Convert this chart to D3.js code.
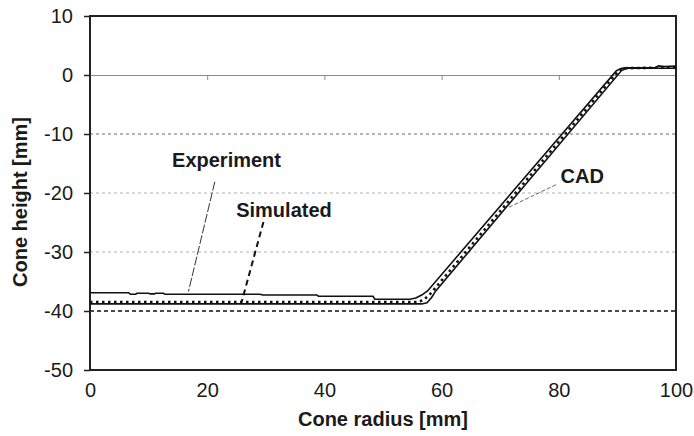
<!DOCTYPE html>
<html>
<head>
<meta charset="utf-8">
<script src="https://cdn.jsdelivr.net/npm/d3@7"></script>
<style>
  html, body { margin: 0; padding: 0; background: #fff; }
  svg { display: block; }
  text { font-family: "Liberation Sans", Arial, sans-serif; fill: #1a1a1a; }
</style>
</head>
<body>
<svg id="chart" width="694" height="436"></svg>
<script>
// ---- data ----
const xTicks = [0, 20, 40, 60, 80, 100];
const yTicks = [10, 0, -10, -20, -30, -40, -50];

const experimentX = [0, 6.6, 6.9, 7.8, 8.0, 10.0, 10.3, 11.0, 11.2, 12.5, 12.8, 29.0, 29.5, 38.7, 39.0, 48.3, 48.6, 54.6, 55.6, 56.6, 57.6, 89.8, 90.5, 91.2, 93.0, 96.5, 97.0, 98.0, 100];
const experimentY = [-36.9, -36.9, -37.15, -37.15, -37.0, -37.0, -37.1, -37.1, -37.0, -37.0, -37.15, -37.15, -37.3, -37.3, -37.5, -37.5, -38.0, -38.0, -37.8, -37.3, -36.6, 0.7, 1.05, 1.2, 1.2, 1.25, 1.55, 1.45, 1.5];

const simulatedX = [0, 55.8, 56.8, 57.8, 58.5, 90.2, 91.2, 100];
const simulatedY = [-38.5, -38.5, -38.2, -37.4, -36.6, 0.7, 1.15, 1.3];

const cadX = [0, 56.6, 57.5, 58.3, 59.0, 90.7, 91.6, 100];
const cadY = [-38.8, -38.8, -38.6, -37.7, -36.6, 0.75, 1.15, 1.15];

const gridValues = [-10, -20, -30, -40];

const labelTexts = ["Experiment", "Simulated", "CAD"];
const labelX = [23.3, 33.1, 84.0];
const labelY = [-15.6, -24.15, -18.3];

const leaderX1 = [21.3, 29.6, 79.5];
const leaderY1 = [-18.1, -24.9, -18.6];
const leaderX2 = [16.8, 25.9, 71.3];
const leaderY2 = [-36.7, -38.4, -22.5];

// ---- layout ----
const svg = d3.select("#chart");
const pL = 90, pR = 676, pT = 16, pB = 370;
const x = d3.scaleLinear().domain([0, 100]).range([pL, pR]);
const y = d3.scaleLinear().domain([-50, 10]).range([pB, pT]);
const FONT = '"Liberation Sans", Arial, sans-serif';
const fmt = d => String(d);

// grid lines
const gridStyle = {
  "-10": { stroke: "#6a6a6a", dash: "3,3", w: 1 },
  "-20": { stroke: "#b0b0b0", dash: "3,3", w: 1 },
  "-30": { stroke: "#b0b0b0", dash: "3,3", w: 1 },
  "-40": { stroke: "#111", dash: "4,3", w: 1.6 }
};
svg.append("g").selectAll("line").data(gridValues).join("line")
  .attr("x1", x(0)).attr("x2", x(100))
  .attr("y1", d => y(d)).attr("y2", d => y(d))
  .attr("stroke", d => gridStyle[d].stroke)
  .attr("stroke-width", d => gridStyle[d].w)
  .attr("stroke-dasharray", d => gridStyle[d].dash);

// zero axis line with small ticks
const zeroAxis = svg.append("g").attr("transform", `translate(0,${y(0)})`)
  .call(d3.axisBottom(x).tickValues(xTicks).tickSize(5).tickFormat(""));
zeroAxis.select(".domain").attr("stroke", "#8a8a8a").attr("stroke-width", 1);
zeroAxis.selectAll(".tick line").attr("stroke", "#8a8a8a");

// x axis labels (bottom)
const xAxis = svg.append("g").attr("transform", `translate(0,${pB})`)
  .call(d3.axisBottom(x).tickValues(xTicks).tickFormat(fmt).tickSize(0).tickPadding(13));
xAxis.select(".domain").remove();
xAxis.selectAll("text").attr("font-size", 20).style("font-family", FONT).attr("fill", "#1a1a1a");

// y axis
const yAxis = svg.append("g").attr("transform", `translate(${pL},0)`)
  .call(d3.axisLeft(y).tickValues(yTicks).tickFormat(fmt).tickSize(6).tickPadding(11));
yAxis.select(".domain").remove();
yAxis.selectAll(".tick line").attr("stroke", "#222").attr("stroke-width", 1.5);
yAxis.selectAll("text").attr("font-size", 20).style("font-family", FONT).attr("fill", "#1a1a1a");

// frame
svg.append("rect")
  .attr("x", pL).attr("y", pT)
  .attr("width", pR - pL).attr("height", pB - pT)
  .attr("fill", "none").attr("stroke", "#222").attr("stroke-width", 2);

// series
const line = d3.line().x(d => x(d[0])).y(d => y(d[1]));
const zipPts = (xs, ys) => xs.map((v, i) => [v, ys[i]]);

svg.append("path").datum(zipPts(cadX, cadY)).attr("d", line)
  .attr("fill", "none").attr("stroke", "#111").attr("stroke-width", 1.6);
svg.append("path").datum(zipPts(experimentX, experimentY)).attr("d", line)
  .attr("fill", "none").attr("stroke", "#111").attr("stroke-width", 1.6);
svg.append("path").datum(zipPts(simulatedX, simulatedY)).attr("d", line)
  .attr("fill", "none").attr("stroke", "#111").attr("stroke-width", 2.6)
  .attr("stroke-dasharray", "2.5,3.5");

// leader lines
const leaderStyles = [
  { stroke: "#333", w: 1, dash: "9,2" },
  { stroke: "#111", w: 2, dash: "6,4" },
  { stroke: "#666", w: 1, dash: "4,2" }
];
svg.append("g").selectAll("line").data(labelTexts).join("line")
  .attr("x1", (d, i) => x(leaderX1[i])).attr("y1", (d, i) => y(leaderY1[i]))
  .attr("x2", (d, i) => x(leaderX2[i])).attr("y2", (d, i) => y(leaderY2[i]))
  .attr("stroke", (d, i) => leaderStyles[i].stroke)
  .attr("stroke-width", (d, i) => leaderStyles[i].w)
  .attr("stroke-dasharray", (d, i) => leaderStyles[i].dash);

// labels
svg.append("g").selectAll("text").data(labelTexts).join("text")
  .attr("x", (d, i) => x(labelX[i])).attr("y", (d, i) => y(labelY[i]))
  .attr("text-anchor", "middle").attr("font-size", 20).attr("font-weight", "bold")
  .text(d => d);

// axis titles
svg.append("text").attr("x", (pL + pR) / 2).attr("y", 426)
  .attr("text-anchor", "middle").attr("font-size", 20).attr("font-weight", "bold")
  .text("Cone radius [mm]");
svg.append("text").attr("transform", `translate(27,${(pT + pB) / 2 + 9}) rotate(-90)`)
  .attr("text-anchor", "middle").attr("font-size", 20).attr("font-weight", "bold")
  .text("Cone height [mm]");
</script>
</body>
</html>
